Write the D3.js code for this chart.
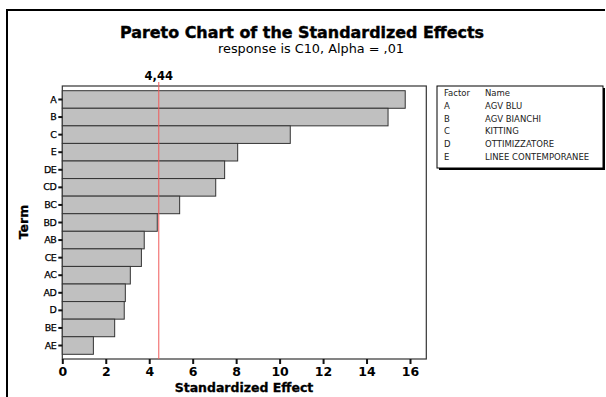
<!DOCTYPE html>
<html><head><meta charset="utf-8">
<script src="https://cdn.jsdelivr.net/npm/d3@7"></script>
<style>body{margin:0;background:#fff}svg{display:block}</style>
</head><body>
<script>
const terms = ["A","B","C","E","DE","CD","BC","BD","AB","CE","AC","AD","D","BE","AE"];
const effects = [15.78,14.99,10.49,8.07,7.47,7.06,5.40,4.37,3.77,3.64,3.13,2.90,2.85,2.41,1.43];
const xTicks = [0,2,4,6,8,10,12,14,16];
const refValue = 4.44;
const refLabel = "4,44";
const legendFactors = ["A","B","C","D","E"];
const legendNames = ["AGV BLU","AGV BIANCHI","KITTING","OTTIMIZZATORE","LINEE CONTEMPORANEE"];
const title = "Pareto Chart of the Standardized Effects";
const subtitle = "response is C10, Alpha = ,01";

const W = 606, H = 397;
const svg = d3.select("body").append("svg").attr("width", W).attr("height", H);
const ff = "'DejaVu Sans', sans-serif";

// outer frame
svg.append("path").attr("d", "M7,"+H+" V10 H605").attr("fill","none").attr("stroke","#000").attr("stroke-width",2);

// title
svg.append("text").attr("x",302).attr("y",38).attr("text-anchor","middle")
  .attr("font-family",ff).attr("font-weight","bold").attr("font-size",15.5)
  .attr("stroke","#000").attr("stroke-width",0.4)
  .attr("textLength",364).attr("lengthAdjust","spacingAndGlyphs").text(title);
svg.append("text").attr("x",311).attr("y",53).attr("text-anchor","middle")
  .attr("font-family",ff).attr("font-size",11.5)
  .attr("textLength",186).attr("lengthAdjust","spacingAndGlyphs").text(subtitle);

const plot = {l:62.3, t:86, r:426.3, b:359};
const x = d3.scaleLinear().domain([0,16.75]).range([plot.l, plot.r]);
const y = d3.scaleBand().domain(terms).range([90.7, 354.3]).padding(0);

// plot frame
svg.append("rect").attr("x",plot.l).attr("y",plot.t).attr("width",plot.r-plot.l).attr("height",plot.b-plot.t)
  .attr("fill","none").attr("stroke","#333").attr("stroke-width",1.2);

// bars
svg.append("g").selectAll("rect").data(terms).join("rect")
  .attr("x", x(0)).attr("y", d => y(d))
  .attr("width", (d,i) => x(effects[i]) - x(0)).attr("height", y.bandwidth())
  .attr("fill","#c0c0c0").attr("stroke","#333").attr("stroke-width",1);

// reference line
svg.append("line").attr("x1",x(refValue)).attr("x2",x(refValue)).attr("y1",plot.t-4).attr("y2",plot.b)
  .attr("stroke","#f05a5a").attr("stroke-width",1);
svg.append("text").attr("x",x(refValue)).attr("y",80).attr("text-anchor","middle")
  .attr("font-family",ff).attr("font-weight","bold").attr("font-size",11.5).text(refLabel);

// x axis
const xAxis = d3.axisBottom(x).tickValues(xTicks).tickSize(5).tickSizeOuter(0).tickPadding(3);
const gx = svg.append("g").attr("transform",`translate(0,${plot.b})`).call(xAxis);
gx.select(".domain").remove();
gx.selectAll(".tick line").attr("stroke","#111").attr("stroke-width",2);
gx.selectAll(".tick text").attr("font-family",ff).attr("font-weight","bold")
  .attr("font-size",12.5).attr("fill","#000");

// y axis
const yAxis = d3.axisLeft(y).tickSize(4).tickSizeOuter(0).tickPadding(2);
const gy = svg.append("g").attr("transform",`translate(${plot.l},0)`).call(yAxis);
gy.select(".domain").remove();
gy.selectAll(".tick line").attr("stroke","#111").attr("stroke-width",2);
gy.selectAll(".tick text").attr("font-family",ff)
  .attr("font-size",9.5).attr("fill","#000").attr("letter-spacing",-0.5)
  .attr("stroke","#000").attr("stroke-width",0.25);

// axis titles
svg.append("text").attr("x",244).attr("y",392).attr("text-anchor","middle")
  .attr("font-family",ff).attr("font-weight","bold").attr("font-size",12.5)
  .attr("stroke","#000").attr("stroke-width",0.3)
  .text("Standardized Effect");
svg.append("text").attr("transform","translate(28,222) rotate(-90)").attr("text-anchor","middle")
  .attr("font-family",ff).attr("font-weight","bold").attr("font-size",12.5)
  .attr("stroke","#000").attr("stroke-width",0.3)
  .text("Term");

// legend
const lg = svg.append("g");
lg.append("rect").attr("x",439).attr("y",88).attr("width",166).attr("height",82).attr("fill","#000");
lg.append("rect").attr("x",437).attr("y",86).attr("width",166).attr("height",82).attr("fill","#fff")
  .attr("stroke","#000").attr("stroke-width",1);
lg.append("text").attr("x",444).attr("y",96).attr("font-family",ff).attr("font-size",8.5).attr("fill","#222").text("Factor");
lg.append("text").attr("x",485).attr("y",96).attr("font-family",ff).attr("font-size",8.5).attr("fill","#222").text("Name");
lg.selectAll(".lf").data(legendFactors).join("text").attr("class","lf")
  .attr("x",444).attr("y",(d,i)=>108.8+i*12.8).attr("font-family",ff).attr("font-size",8.5).attr("fill","#222").text(d=>d);
lg.selectAll(".ln").data(legendNames).join("text").attr("class","ln")
  .attr("x",485).attr("y",(d,i)=>108.8+i*12.8).attr("font-family",ff).attr("font-size",8.5).attr("fill","#222").text(d=>d);
</script>
</body></html>
